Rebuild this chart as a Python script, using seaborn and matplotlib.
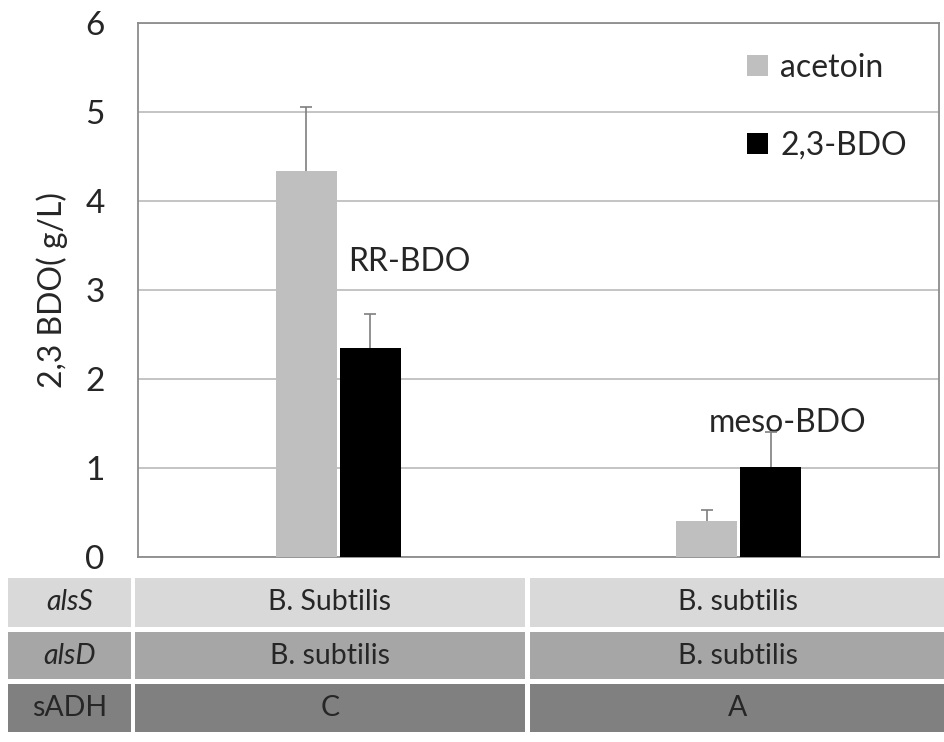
import numpy as np
import pandas as pd
import seaborn as sns
import matplotlib.pyplot as plt
from matplotlib.patches import Rectangle

# values
groups = ['C', 'A']
series = ['acetoin', '2,3-BDO']
acetoin = [4.34, 0.40]
acetoin_err = [0.72, 0.13]
bdo = [2.35, 1.01]
bdo_err = [0.38, 0.39]
bar_notes = ['RR-BDO', 'meso-BDO']

row_names = ['alsS', 'alsD', 'sADH']
row_values = [['B. Subtilis', 'B. subtilis'],
              ['B. subtilis', 'B. subtilis'],
              ['C', 'A']]
row_colors = ['#d9d9d9', '#a6a6a6', '#808080']

df = pd.DataFrame({
    'group': groups * 2,
    'series': [series[0]] * 2 + [series[1]] * 2,
    'value': acetoin + bdo,
    'err': acetoin_err + bdo_err,
})

sns.set_theme(style='white')
plt.rcParams['font.family'] = ['Lato', 'DejaVu Sans']

W, H = 945, 742
fig = plt.figure(figsize=(W / 100, H / 100), dpi=100)
ax = fig.add_axes([138 / W, 1 - 557 / H, 801 / W, 534 / H])

sns.barplot(data=df, x='group', y='value', hue='series', order=groups,
            hue_order=series, palette=['#bfbfbf', '#000000'],
            width=0.32, gap=0.05, errorbar=None, ax=ax, zorder=3,
            linewidth=0)

# upward-only error bars at bar centres
for cont, s in zip(ax.containers, series):
    sub = df[df['series'] == s].set_index('group').loc[groups]
    xs = [p.get_x() + p.get_width() / 2 for p in cont.patches]
    _, caps, _ = ax.errorbar(xs, sub['value'],
                             yerr=[np.zeros(len(xs)), sub['err']],
                             fmt='none', ecolor='#7f7f7f', elinewidth=1.2,
                             capsize=4, capthick=1.2, zorder=4)
    caps[0].set_visible(False)

ax.set_ylim(0, 6)
ax.set_xlim(-0.5, 1.5)
ax.set_yticks(range(0, 7))
ax.yaxis.grid(True, color='#bfbfbf', linewidth=1.3, zorder=0)
ax.set_axisbelow(True)
ax.tick_params(axis='y', labelsize=24, pad=24, length=0)
ax.set_xticks([])
ax.set_xlabel('')
ax.set_ylabel('2,3 BDO( g/L)', fontsize=23, labelpad=12)
for sp in ax.spines.values():
    sp.set_visible(True)
    sp.set_color('#8c8c8c')
    sp.set_linewidth(1.3)

ax.text(0.024, 3.31, bar_notes[0], fontsize=23, va='center', ha='left')
ax.text(0.926, 1.51, bar_notes[1], fontsize=23, va='center', ha='left')

leg = ax.legend(loc='upper right', bbox_to_anchor=(0.98, 0.974), frameon=False,
                fontsize=23, handlelength=0.65, handleheight=0.65,
                handletextpad=0.4, labelspacing=1.5, borderpad=0)

# condition table under the chart
def cell(x0, x1, y0, y1, color, text, italic=False):
    fig.patches.append(Rectangle((x0 / W, 1 - y1 / H), (x1 - x0) / W,
                                 (y1 - y0) / H, transform=fig.transFigure,
                                 facecolor=color, edgecolor='none'))
    fig.text((x0 + x1) / 2 / W, 1 - (y0 + y1) / 2 / H, text, fontsize=20.5,
             ha='center', va='center', style='italic' if italic else 'normal')

row_y = [(578, 627), (632, 679), (684, 732)]
col_x = [(8, 131), (135, 525), (530, 945)]
for (y0, y1), name, vals, c in zip(row_y, row_names, row_values, row_colors):
    cell(col_x[0][0], col_x[0][1], y0, y1, c, name, italic=(name != 'sADH'))
    for (x0, x1), v in zip(col_x[1:], vals):
        cell(x0, x1, y0, y1, c, v)

fig.savefig('out.png', dpi=100)
